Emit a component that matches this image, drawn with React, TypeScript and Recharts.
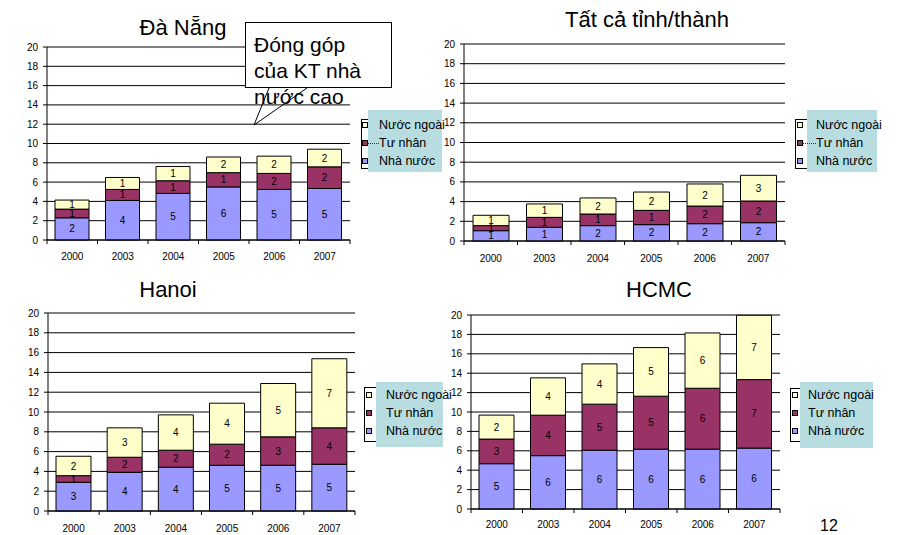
import React from 'react';
import { BarChart, Bar, XAxis, YAxis, CartesianGrid, LabelList } from 'recharts';

// Categories and axis ticks
const years = ['2000', '2003', '2004', '2005', '2006', '2007'];
const yTicks = [0, 2, 4, 6, 8, 10, 12, 14, 16, 18, 20];

// Series names (legend order, top to bottom)
const foreignName = 'Nước ngoài';
const privateName = 'Tư nhân';
const stateName = 'Nhà nước';

// Đà Nẵng
const daNangState = [2.3, 4.1, 4.83, 5.5, 5.24, 5.34];
const daNangPrivate = [0.9, 1.14, 1.31, 1.48, 1.66, 2.24];
const daNangForeign = [0.94, 1.24, 1.48, 1.62, 1.79, 1.83];

// Tất cả tỉnh/thành
const allState = [1.05, 1.39, 1.56, 1.66, 1.76, 1.86];
const allPrivate = [0.51, 1.01, 1.18, 1.45, 1.79, 2.2];
const allForeign = [1.05, 1.36, 1.63, 1.86, 2.24, 2.61];

// Hanoi
const hanoiState = [2.9, 3.91, 4.42, 4.62, 4.62, 4.72];
const hanoiPrivate = [0.67, 1.52, 1.72, 2.13, 2.87, 3.68];
const hanoiForeign = [1.96, 2.97, 3.57, 4.14, 5.39, 6.98];

// HCMC
const hcmcState = [4.67, 5.5, 6.07, 6.17, 6.17, 6.28];
const hcmcPrivate = [2.54, 4.17, 4.74, 5.46, 6.28, 7.06];
const hcmcForeign = [2.47, 3.85, 4.15, 5.01, 5.7, 6.63];

const COLORS = { state: '#9999FF', private: '#993366', foreign: '#FFFFCC' };
const FONT = '"Liberation Sans", Arial, sans-serif';
const CYAN = '#B7DDE0';

const buildRows = (s: number[], p: number[], f: number[]) =>
  years.map((year, i) => ({ year, state: s[i], private: p[i], foreign: f[i] }));

const roundLabel = (v: any) => Math.round(Number(v));

const YearTick = (props: any) => {
  const { x, y, payload, index, band, dy } = props;
  const left = x - band / 2;
  const right = x + band / 2;
  return (
    <g>
      <line x1={left} x2={left} y1={y} y2={y + 4} stroke="#000" />
      {index === years.length - 1 && <line x1={right} x2={right} y1={y} y2={y + 4} stroke="#000" />}
      <text x={x} y={y + dy} textAnchor="middle" fontSize={10} fill="#000" fontFamily={FONT}>
        {payload.value}
      </text>
    </g>
  );
};

type PanelProps = {
  L: number; R: number; T: number; B: number;
  rows: any[]; barSize: number; labelDy: number;
};

function Panel({ L, R, T, B, rows, barSize, labelDy }: PanelProps) {
  const padL = 40, padR = 6, padT = 6, padB = 30;
  const w = R - L + padL + padR;
  const h = B - T + padT + padB;
  const band = (R - L) / years.length;
  const labelProps = { position: 'center' as const, formatter: roundLabel, fill: '#000', fontSize: 10, fontFamily: FONT };
  return (
    <div style={{ position: 'absolute', left: L - padL, top: T - padT }}>
      <BarChart width={w} height={h} data={rows} margin={{ top: padT, right: padR, bottom: 0, left: 0 }} barSize={barSize}>
        <CartesianGrid vertical={false} stroke="#000" />
        <XAxis
          dataKey="year"
          height={padB}
          axisLine={{ stroke: '#000' }}
          tickLine={false}
          tickSize={0}
          tickMargin={0}
          interval={0}
          tick={(p: any) => <YearTick {...p} band={band} dy={labelDy} />}
        />
        <YAxis
          domain={[0, 20]}
          ticks={yTicks}
          interval={0}
          width={padL}
          axisLine={{ stroke: '#000' }}
          tickLine={{ stroke: '#000' }}
          tickSize={4}
          tickMargin={5}
          tick={{ fill: '#000', fontSize: 10, fontFamily: FONT }}
        />
        <Bar dataKey="state" name={stateName} stackId="s" fill={COLORS.state} stroke="#000" isAnimationActive={false}>
          <LabelList dataKey="state" {...labelProps} />
        </Bar>
        <Bar dataKey="private" name={privateName} stackId="s" fill={COLORS.private} stroke="#000" isAnimationActive={false}>
          <LabelList dataKey="private" {...labelProps} />
        </Bar>
        <Bar dataKey="foreign" name={foreignName} stackId="s" fill={COLORS.foreign} stroke="#000" isAnimationActive={false}>
          <LabelList dataKey="foreign" {...labelProps} />
        </Bar>
      </BarChart>
    </div>
  );
}

type LegendProps = {
  border: [number, number, number, number];
  cyan: [number, number, number, number];
  markerX: number; textX: number; ys: number[]; dotted?: boolean;
};

function LegendBox({ border, cyan, markerX, textX, ys, dotted }: LegendProps) {
  const items = [
    { name: foreignName, color: COLORS.foreign },
    { name: privateName, color: COLORS.private },
    { name: stateName, color: COLORS.state },
  ];
  return (
    <>
      <div style={{ position: 'absolute', left: border[0], top: border[1], width: border[2] - border[0], height: border[3] - border[1], border: '1px solid #000', background: '#fff', boxSizing: 'border-box' }} />
      {items.map((it, i) => (
        <div key={'m' + i} style={{ position: 'absolute', left: markerX, top: ys[i] - 3, width: 6, height: 6, background: it.color, border: '1px solid #000', boxSizing: 'border-box' }} />
      ))}
      <div style={{ position: 'absolute', left: cyan[0], top: cyan[1], width: cyan[2] - cyan[0], height: cyan[3] - cyan[1], background: CYAN }} />
      {dotted && (
        <div style={{ position: 'absolute', left: markerX + 6, top: ys[1], width: textX - markerX - 6, borderTop: '1px dotted #333' }} />
      )}
      {items.map((it, i) => (
        <div key={'t' + i} style={{ position: 'absolute', left: textX, top: ys[i] - 8, height: 16, lineHeight: '16px', fontSize: 12.5, fontFamily: FONT, color: '#000', whiteSpace: 'nowrap' }}>
          {it.name}
        </div>
      ))}
    </>
  );
}

export default function App() {
  return (
    <div style={{ position: 'absolute', left: 0, top: 0, width: 897, height: 535, background: '#fff', overflow: 'hidden', fontFamily: FONT }}>
      <Panel L={47} R={350} T={47} B={240} rows={buildRows(daNangState, daNangPrivate, daNangForeign)} barSize={34} labelDy={19.5} />
      <Panel L={464} R={785} T={44} B={241} rows={buildRows(allState, allPrivate, allForeign)} barSize={36} labelDy={21} />
      <Panel L={48} R={355} T={313} B={511} rows={buildRows(hanoiState, hanoiPrivate, hanoiForeign)} barSize={35} labelDy={20.5} />
      <Panel L={471} R={780} T={315} B={509} rows={buildRows(hcmcState, hcmcPrivate, hcmcForeign)} barSize={35} labelDy={18.5} />

      <LegendBox border={[361, 119, 436, 169]} cyan={[368, 110, 442, 172]} markerX={362} textX={379} ys={[125, 143, 161]} dotted />
      <LegendBox border={[795, 119, 870, 169]} cyan={[807, 110, 877, 172]} markerX={797} textX={816} ys={[125, 143, 161]} dotted />
      <LegendBox border={[364, 387, 440, 442]} cyan={[376, 382, 443, 447]} markerX={366} textX={386} ys={[395, 413, 431]} />
      <LegendBox border={[790, 388, 866, 442]} cyan={[800, 382, 873, 448]} markerX={792} textX={808} ys={[395, 413, 431]} />

      <svg width={897} height={535} style={{ position: 'absolute', left: 0, top: 0, pointerEvents: 'none' }}>
        <g fontFamily={FONT} fill="#000">
          <text x={183} y={35} fontSize={22} textAnchor="middle">Đà Nẵng</text>
          <text x={647} y={27} fontSize={22} textAnchor="middle">Tất cả tỉnh/thành</text>
          <text x={168} y={297} fontSize={22} textAnchor="middle">Hanoi</text>
          <text x={659} y={297} fontSize={22} textAnchor="middle">HCMC</text>
          <text x={829} y={531} fontSize={16} textAnchor="middle">12</text>
        </g>
        <rect x={245.5} y={22.5} width={146} height={65} fill="#fff" stroke="#000" />
        <line x1={269} y1={88} x2={254} y2={125} stroke="#000" />
        <line x1={307} y1={88} x2={254} y2={125} stroke="#000" />
        <g fontFamily={FONT} fontSize={21} fill="#000">
          <text x={254} y={52}>Đóng góp</text>
          <text x={254} y={78}>của KT nhà</text>
          <text x={254} y={104}>nước cao</text>
        </g>
      </svg>
    </div>
  );
}
